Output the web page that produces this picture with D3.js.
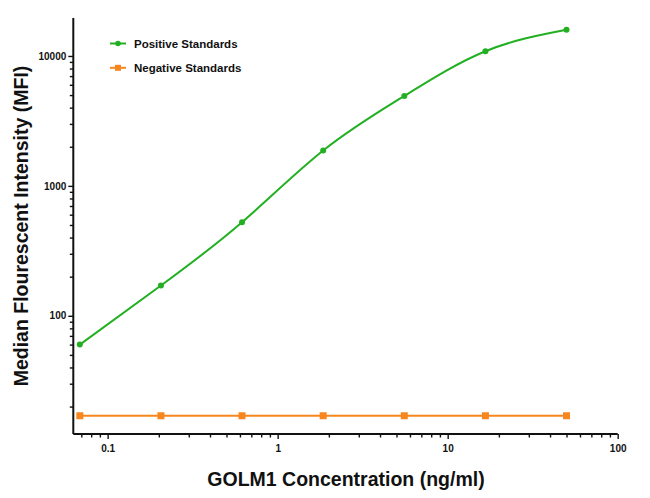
<!DOCTYPE html>
<html>
<head>
<meta charset="utf-8">
<script src="https://cdn.jsdelivr.net/npm/d3@7"></script>
<style>
  html, body { margin: 0; padding: 0; background: #fff; }
  svg { display: block; }
  text { font-family: "Liberation Sans", Arial, sans-serif; }
</style>
</head>
<body>
<svg id="chart" width="650" height="498"></svg>
<script>
// ---- data ----
const concentrations = [0.0686, 0.2058, 0.617, 1.852, 5.556, 16.67, 50];
const positiveMFI = [60, 171, 525, 1870, 4920, 10870, 15900];
const negativeMFI = [17, 17, 17, 17, 17, 17, 17];
const xTickValues = [0.1, 1, 10, 100];
const yTickValues = [100, 1000, 10000];
const seriesNames = ["Positive Standards", "Negative Standards"];
const seriesColors = ["#22b022", "#f7861f"];

// ---- layout ----
const svg = d3.select("#chart");
const x = d3.scaleLog().domain([0.0628, 100]).range([73.3, 617.7]);
const y = d3.scaleLog().domain([12.3, 19600]).range([434, 18]);

const ink = "#111";

function minorTicks(lo, hi) {
  const out = [];
  for (let p = Math.floor(Math.log10(lo)); p <= Math.ceil(Math.log10(hi)); p++) {
    for (let m = 2; m <= 9; m++) {
      const v = m * Math.pow(10, p);
      if (v >= lo && v <= hi) out.push(v);
    }
  }
  return out;
}

// X axis
const xAxisG = svg.append("g").attr("transform", `translate(0,${y.range()[0]})`);
xAxisG.call(d3.axisBottom(x).tickValues(xTickValues).tickFormat(d3.format("")).tickSize(5).tickPadding(6));
const xMinor = svg.append("g").attr("transform", `translate(0,${y.range()[0]})`);
xMinor.call(d3.axisBottom(x).tickValues(minorTicks(0.0628, 100)).tickFormat("").tickSize(3.5).tickSizeOuter(0));
xMinor.select(".domain").remove();

// Y axis
const yAxisG = svg.append("g").attr("transform", `translate(${x.range()[0]},0)`);
yAxisG.call(d3.axisLeft(y).tickValues(yTickValues).tickFormat(d3.format("")).tickSize(5).tickPadding(2));
const yMinor = svg.append("g").attr("transform", `translate(${x.range()[0]},0)`);
yMinor.call(d3.axisLeft(y).tickValues(minorTicks(12.3, 19600)).tickFormat("").tickSize(3.5).tickSizeOuter(0));
yMinor.select(".domain").remove();

xAxisG.select(".domain").attr("d", `M${x.range()[0]},0H${x.range()[1]}`);
yAxisG.select(".domain").attr("d", `M0,${y.range()[0]}V${y.range()[1]}`);
svg.selectAll(".domain").attr("stroke", ink).attr("stroke-width", 2);
svg.selectAll(".tick line").attr("stroke", ink).attr("stroke-width", 1.4);
svg.selectAll(".tick text").attr("fill", ink).attr("font-size", 10).attr("font-weight", "bold")
  .attr("font-family", "'Liberation Sans', Arial, sans-serif");

// ---- series ----
const posData = concentrations.map((c, i) => ({ c, v: positiveMFI[i] }));
const negData = concentrations.map((c, i) => ({ c, v: negativeMFI[i] }));

const line = d3.line().x(d => x(d.c)).y(d => y(d.v));

svg.append("path").datum(negData).attr("d", line)
  .attr("fill", "none").attr("stroke", seriesColors[1]).attr("stroke-width", 2.2);
svg.append("g").selectAll("rect").data(negData).join("rect")
  .attr("x", d => x(d.c) - 3.5).attr("y", d => y(d.v) - 3.5)
  .attr("width", 7).attr("height", 7).attr("fill", seriesColors[1]);

svg.append("path").datum(posData).attr("d", line.curve(d3.curveNatural))
  .attr("fill", "none").attr("stroke", seriesColors[0]).attr("stroke-width", 2);
svg.append("g").selectAll("circle").data(posData).join("circle")
  .attr("cx", d => x(d.c)).attr("cy", d => y(d.v)).attr("r", 3)
  .attr("fill", seriesColors[0]);

// ---- legend ----
const legend = svg.append("g");
seriesNames.forEach((name, i) => {
  const ly = 43.5 + i * 24.3;
  legend.append("line").attr("x1", 110).attr("x2", 126).attr("y1", ly).attr("y2", ly)
    .attr("stroke", seriesColors[i]).attr("stroke-width", 2);
  if (i === 0) {
    legend.append("circle").attr("cx", 118).attr("cy", ly).attr("r", 2.8).attr("fill", seriesColors[i]);
  } else {
    legend.append("rect").attr("x", 115).attr("y", ly - 3).attr("width", 6).attr("height", 6).attr("fill", seriesColors[i]);
  }
  legend.append("text").attr("x", 134).attr("y", ly).attr("dy", "0.35em")
    .attr("font-size", 11.5).attr("font-weight", "bold").attr("fill", ink).text(name);
});

// ---- axis titles ----
svg.append("text").attr("x", 346).attr("y", 486).attr("text-anchor", "middle")
  .attr("font-size", 19.5).attr("font-weight", "bold").attr("fill", ink)
  .text("GOLM1 Concentration (ng/ml)");
svg.append("text").attr("transform", "translate(28,226) rotate(-90)").attr("text-anchor", "middle")
  .attr("font-size", 19.5).attr("font-weight", "bold").attr("fill", ink)
  .text("Median Flourescent Intensity (MFI)");
</script>
</body>
</html>
